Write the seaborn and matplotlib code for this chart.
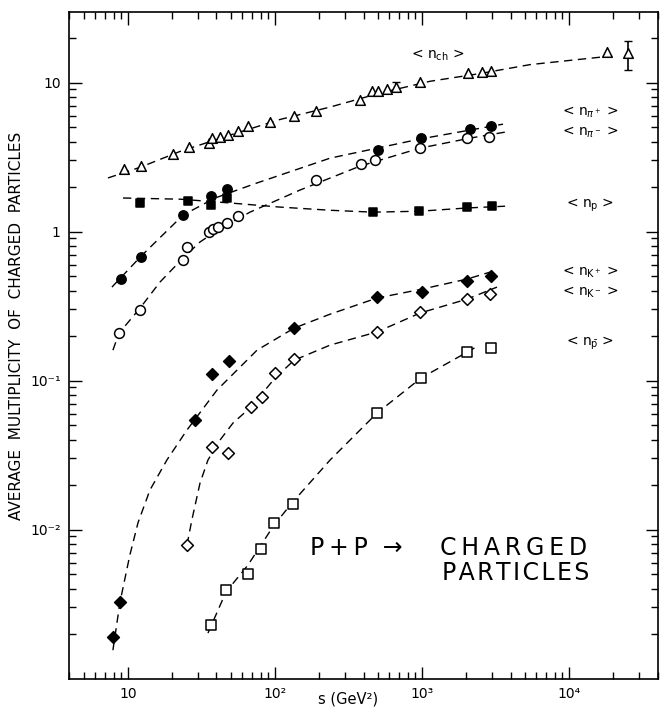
import matplotlib
matplotlib.use("Agg")
import matplotlib.pyplot as plt
from matplotlib.ticker import LogLocator, NullFormatter
import seaborn as sns

# measured points (s in GeV^2, average multiplicity)
s_ch = [9.4, 12.3, 20.2, 26, 35.6, 37.3, 42.2, 47.9, 56, 65.5, 92.4, 135, 190,
        379, 457, 502, 578, 665, 969, 2055, 2559, 2946, 18150, 25200]
n_ch = [2.63, 2.75, 3.31, 3.69, 3.93, 4.24, 4.31, 4.44, 4.73, 5.11, 5.43, 5.96, 6.44,
        7.64, 8.78, 8.78, 9.04, 9.33, 10.1, 11.6, 11.76, 11.9, 16.0, 15.9]
s_ch_err = [665, 25200]
n_ch_err = [9.33, 15.9]
n_ch_err_lo = [0.5, 3.8]
n_ch_err_hi = [0.8, 3.1]

s_pip = [8.96, 12.3, 23.7, 36.7, 47.1, 502, 984, 2124, 2946]
n_pip = [0.48, 0.674, 1.29, 1.73, 1.93, 3.52, 4.25, 4.88, 5.11]

s_pim = [8.68, 12.1, 23.7, 25.2, 35.6, 37.8, 40.9, 47.1, 56, 190, 385, 479, 969, 2024, 2858]
n_pim = [0.208, 0.297, 0.644, 0.787, 0.993, 1.04, 1.07, 1.14, 1.27, 2.22, 2.84, 3.02, 3.63, 4.24, 4.31]

s_p = [12.1, 25.6, 36.7, 47.1, 464, 955, 2024, 2994]
n_p = [1.55, 1.60, 1.51, 1.68, 1.35, 1.37, 1.46, 1.48]

s_kp = [7.9, 8.83, 28.6, 37.3, 48.6, 135, 494, 1000, 2024, 2946]
n_kp = [0.0019, 0.00326, 0.0543, 0.1106, 0.135, 0.225, 0.363, 0.392, 0.465, 0.503]

s_km = [25.2, 37.3, 47.9, 68.7, 81.6, 100, 135, 494, 969, 2024, 2911]
n_km = [0.00787, 0.0358, 0.0326, 0.0664, 0.0775, 0.112, 0.139, 0.212, 0.288, 0.352, 0.381]

s_pb = [36.7, 46.5, 65.5, 80.3, 98.4, 132, 494, 984, 2024, 2946]
n_pb = [0.00229, 0.00393, 0.00503, 0.0074, 0.0111, 0.0148, 0.0605, 0.104, 0.155, 0.165]

# dashed curves
fit_ch_s = [7.31, 12.1, 22.6, 49.4, 108, 237, 518, 1132, 2483, 5430, 16250]
fit_ch_n = [2.29, 2.70, 3.45, 4.44, 5.65, 6.85, 8.5, 10.2, 11.5, 13.2, 14.8]
fit_pip_s = [7.78, 12.3, 23.7, 39.1, 75.5, 237, 969, 3556]
fit_pip_n = [0.424, 0.685, 1.29, 1.68, 2.12, 3.11, 4.18, 5.26]
fit_pim_s = [7.90, 8.69, 12.1, 16.5, 23.7, 30.9, 42.3, 67.6, 148, 379, 969, 2124, 3672]
fit_pim_n = [0.160, 0.208, 0.307, 0.458, 0.664, 0.851, 1.05, 1.35, 1.90, 2.75, 3.63, 4.24, 4.65]
fit_p_s = [9.25, 22.6, 51.8, 108, 237, 464, 969, 2024, 3672]
fit_p_n = [1.68, 1.65, 1.55, 1.46, 1.39, 1.35, 1.37, 1.44, 1.48]
fit_kp_s = [7.90, 8.83, 10.3, 11.7, 14.1, 18.4, 25.2, 40.3, 75.5, 135, 237, 494, 1000, 2024, 3236]
fit_kp_n = [0.00155, 0.00326, 0.00674, 0.0111, 0.0184, 0.0293, 0.0466, 0.0863, 0.160, 0.225,
            0.279, 0.358, 0.411, 0.48, 0.552]
fit_km_s = [25.2, 27.2, 30.9, 35.0, 42.3, 51.8, 68.7, 100, 135, 237, 494, 969, 2024, 3236]
fit_km_n = [0.00787, 0.0116, 0.0205, 0.0293, 0.0399, 0.0519, 0.0664, 0.104, 0.137, 0.173,
            0.212, 0.284, 0.352, 0.424]
fit_pb_s = [35.0, 46.4, 65.5, 98.4, 132, 237, 494, 984, 2024, 2405]
fit_pb_n = [0.00202, 0.00381, 0.00578, 0.0107, 0.0153, 0.0293, 0.0605, 0.104, 0.155, 0.171]

labels = ["< n$_{\\rm ch}$ >", "< n$_{\\pi^+}$ >", "< n$_{\\pi^-}$ >", "< n$_{\\rm p}$ >",
          "< n$_{\\rm K^+}$ >", "< n$_{\\rm K^-}$ >", "< n$_{\\bar{\\rm p}}$ >"]
label_s = [1285, 13900, 13900, 13900, 13900, 13900, 13900]
label_n = [15.3, 6.34, 4.65, 1.5, 0.535, 0.394, 0.178]

sns.set_style("ticks")
plt.rcParams['font.family'] = ['DejaVu Sans']
plt.rcParams['text.color'] = 'black'
plt.rcParams['axes.labelcolor'] = 'black'

fig = plt.figure(figsize=(6.6, 7.14), dpi=100)
ax = fig.add_axes([0.1045, 0.049, 0.8925, 0.934])

fits = [(fit_ch_s, fit_ch_n), (fit_pip_s, fit_pip_n), (fit_pim_s, fit_pim_n),
        (fit_p_s, fit_p_n), (fit_kp_s, fit_kp_n), (fit_km_s, fit_km_n), (fit_pb_s, fit_pb_n)]
for fs, fn in fits:
    sns.lineplot(x=fs, y=fn, ax=ax, color='black', linewidth=1.0,
                 dashes=False, zorder=1).lines[-1].set_dashes((6, 4))

ax.errorbar(s_ch_err, n_ch_err, yerr=[n_ch_err_lo, n_ch_err_hi], fmt='none',
            ecolor='black', elinewidth=1.2, capsize=3, zorder=2)

# (x, y, marker, size, filled)
series = [
    (s_ch, n_ch, '^', 48, False),
    (s_pip, n_pip, 'o', 45, True),
    (s_pim, n_pim, 'o', 50, False),
    (s_p, n_p, 's', 40, True),
    (s_kp, n_kp, 'D', 36, True),
    (s_km, n_km, 'D', 36, False),
    (s_pb, n_pb, 's', 45, False),
]
for xs, ys, mk, sz, filled in series:
    sns.scatterplot(x=xs, y=ys, ax=ax, marker=mk, s=sz,
                    color='black' if filled else 'white',
                    edgecolor='black', linewidth=1.1, zorder=3)

for txt, xs, ys in zip(labels, label_s, label_n):
    ax.text(xs, ys, txt, ha='center', va='center', fontsize=10, color='black')

# handwritten note
ts = "\u2009"
hs = "\u200a"
ax.text(0.409, 0.196, "P" + ts + "+" + ts + "P  \u2192", transform=ax.transAxes,
        fontsize=17, ha='left', va='center', color='black')
ax.text(0.630, 0.196, ts.join("CHARGED"), transform=ax.transAxes,
        fontsize=17, ha='left', va='center', color='black')
ax.text(0.633, 0.159, hs.join("PARTICLES"), transform=ax.transAxes,
        fontsize=17, ha='left', va='center', color='black')

ax.set_xscale('log')
ax.set_yscale('log')
ax.set_xlim(3.97, 40270)
ax.set_ylim(0.000993, 29.7)

ax.set_xticks([10, 100, 1000, 10000])
ax.set_xticklabels(["10", "10\u00b2", "10\u00b3", "10\u2074"])
ax.set_yticks([0.01, 0.1, 1, 10])
ax.set_yticklabels(["10\u207b\u00b2", "10\u207b\u00b9", "1", "10"])
ax.xaxis.set_minor_locator(LogLocator(base=10, subs=range(2, 10), numticks=20))
ax.yaxis.set_minor_locator(LogLocator(base=10, subs=range(2, 10), numticks=20))
ax.xaxis.set_minor_formatter(NullFormatter())
ax.yaxis.set_minor_formatter(NullFormatter())
ax.tick_params(which='both', direction='in', top=True, right=True, width=1.0,
               labelsize=10, colors='black')
ax.tick_params(which='major', length=9, pad=6)
ax.tick_params(which='minor', length=5)
for sp in ax.spines.values():
    sp.set_linewidth(1.2)
    sp.set_color('black')

ax.set_xlabel("s (GeV\u00b2)", fontsize=10.5, color='black')
ax.set_ylabel("AVERAGE  MULTIPLICITY  OF  CHARGED  PARTICLES", fontsize=11, color='black')
ax.xaxis.set_label_coords(0.474, -0.019)
ax.yaxis.set_label_coords(-0.076, 0.529)

fig.savefig("out.png", dpi=100)
